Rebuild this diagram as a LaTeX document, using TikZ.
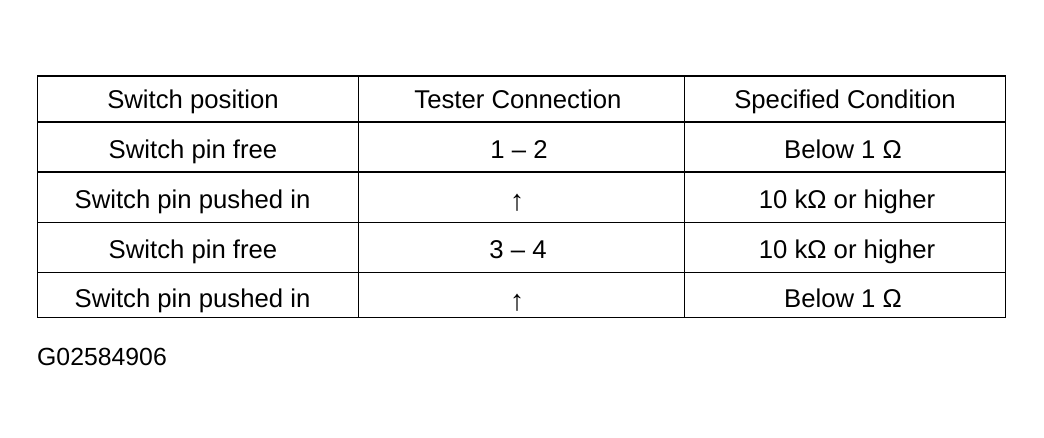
\documentclass[tikz,border=0pt]{standalone}
\usepackage{fontspec}
\setmainfont{Liberation Sans}
\begin{document}
\begin{tikzpicture}[x=1pt,y=-1pt,
  cell/.style={font=\fontsize{25.7}{30}\selectfont, anchor=base, inner sep=0pt},
  arr/.style={font=\fontsize{29}{34}\selectfont, anchor=base, inner sep=0pt},
  grid/.style={line width=1.8pt, black}]
\useasboundingbox (0,0) rectangle (1044,438);
% frame
\coordinate (tl) at (37.5,76);
\coordinate (br) at (1005.5,317.5);
\draw[grid] (tl) rectangle (br);
\draw[grid] (358.5,76) -- (358.5,317.5);
\draw[grid] (684.5,76) -- (684.5,317.5);
\foreach \y in {122,172,222.5,272.5} \draw[grid] (37.5,\y) -- (1005.5,\y);
% header
\node[cell] (h1) at (193,108.5) {Switch position};
\node[cell] (h2) at (518,108.5) {Tester Connection};
\node[cell] (h3) at (845,108.5) {Specified Condition};
% row 1
\node[cell] (a1) at (193,158.5) {Switch pin free};
\node[cell] (b1) at (519,158.5) {1 – 2};
\node[cell] (c1) at (843,158.5) {Below 1 Ω};
% row 2
\node[cell] (a2) at (192.5,208.5) {Switch pin pushed in};
\node[arr] (b2) at (517,211) {↑};
\node[cell] (c2) at (847,208.5) {10 kΩ or higher};
% row 3
\node[cell] (a3) at (193,258.5) {Switch pin free};
\node[cell] (b3) at (518,258.5) {3 – 4};
\node[cell] (c3) at (847,258.5) {10 kΩ or higher};
% row 4
\node[cell] (a4) at (192.5,308) {Switch pin pushed in};
\node[arr] (b4) at (517,310.5) {↑};
\node[cell] (c4) at (843,308) {Below 1 Ω};
% label
\node[cell, font=\fontsize{24.8}{30}\selectfont, anchor=base west] (lbl) at (37,365) {G02584906};
\end{tikzpicture}
\end{document}
